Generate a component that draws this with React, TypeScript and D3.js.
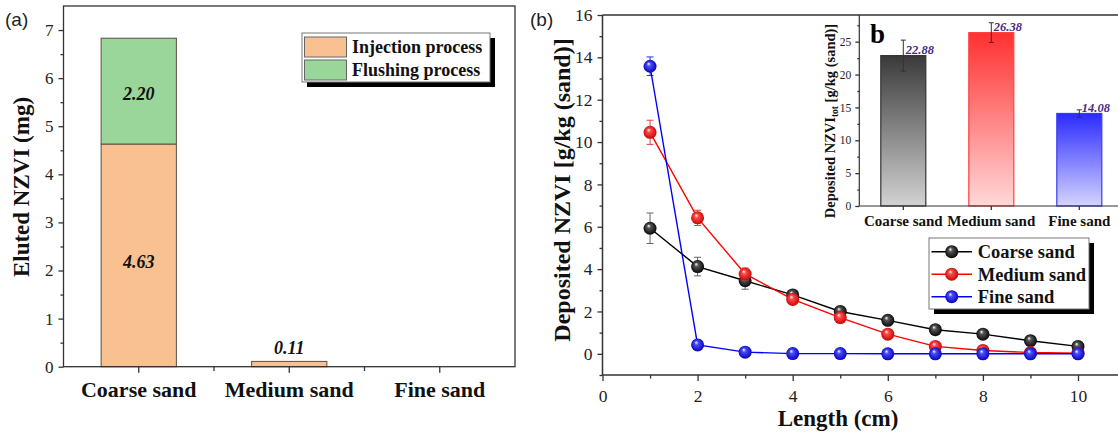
import React, { useRef, useEffect } from 'react';
import * as d3 from 'd3';

// panel (a): eluted NZVI per sand type
const categories = ["Coarse sand", "Medium sand", "Fine sand"];
const injection = [4.63, 0.11, 0];
const flushing = [2.2, 0, 0];
const stackNames = ["Injection process", "Flushing process"];

// panel (b): deposited NZVI along the column
const lengths = [1, 2, 3, 4, 5, 6, 7, 8, 9, 10];
const coarseDep = [5.93, 4.12, 3.45, 2.78, 2.0, 1.58, 1.14, 0.93, 0.62, 0.35];
const coarseErr = [0.72, 0.44, 0.4, 0.1, 0.08, 0.08, 0.06, 0.05, 0.05, 0.04];
const mediumDep = [10.46, 6.42, 3.77, 2.57, 1.71, 0.93, 0.35, 0.16, 0.06, 0.03];
const mediumErr = [0.57, 0.36, 0.28, 0.1, 0.08, 0.05, 0.04, 0.03, 0.02, 0.02];
const fineDep = [13.58, 0.42, 0.08, 0.01, 0.01, 0.0, 0.0, 0.0, 0.0, 0.0];
const fineErr = [0.44, 0.05, 0.03, 0.02, 0.02, 0.02, 0.02, 0.02, 0.02, 0.02];

// inset: total deposited
const totals = [22.88, 26.38, 14.08];
const totalErr = [2.36, 1.5, 0.55];

const serif = "Liberation Serif, Times New Roman, serif";
const sans = "Liberation Sans, Arial, sans-serif";

const App = () => {
  const ref = useRef<SVGSVGElement>(null);

  useEffect(() => {
    const svg = d3.select(ref.current);
    svg.selectAll("*").remove();
    const defs = svg.append("defs");

    const styleAxis = (g: any, size: number) => {
      g.attr("font-family", serif).attr("font-size", size);
      g.select(".domain").remove();
      g.selectAll(".tick line").attr("stroke", "#333").attr("stroke-width", 1.3);
      g.selectAll(".tick text").attr("font-family", serif).attr("font-size", size).attr("fill", "#222");
    };

    // ---------- panel (a) ----------
    const aX = d3.scaleBand().domain(categories).range([63.5, 515]).padding(0);
    const aY = d3.scaleLinear().domain([0, 7.5]).range([366.7, 6]);
    const bw = aX.bandwidth() * 0.5;
    const pa = svg.append("g");

    categories.forEach((c, i) => {
      const x0 = aX(c)! + (aX.bandwidth() - bw) / 2;
      const segs = [
        { y0: 0, y1: injection[i], fill: "#F9C192" },
        { y0: injection[i], y1: injection[i] + flushing[i], fill: "#9AD59A" },
      ];
      segs.forEach(s => {
        if (s.y1 - s.y0 <= 0) return;
        const top = aY(s.y1), bot = aY(s.y0);
        pa.append("rect")
          .attr("x", x0).attr("y", top).attr("width", bw).attr("height", bot - top)
          .attr("fill", s.fill).attr("stroke", "#5a4f45").attr("stroke-width", 1);
        const inside = bot - top > 25;
        pa.append("text")
          .attr("x", x0 + bw / 2)
          .attr("y", inside ? aY(s.y0 + (s.y1 - s.y0) * 0.47) + 6 : top - 7)
          .attr("text-anchor", "middle")
          .attr("font-family", serif).attr("font-size", 18)
          .attr("font-weight", "bold").attr("font-style", "italic").attr("fill", "#111")
          .text(d3.format(".2f")(s.y1 - s.y0));
      });
    });

    pa.append("rect").attr("x", 63.5).attr("y", 6).attr("width", 515 - 63.5).attr("height", 366.7 - 6)
      .attr("fill", "none").attr("stroke", "#333").attr("stroke-width", 1.3);

    pa.append("g").attr("transform", "translate(63.5,0)")
      .call(d3.axisLeft(aY).tickValues(d3.range(0, 8)).tickSize(5).tickPadding(5).tickFormat(d3.format("d")))
      .call((g: any) => styleAxis(g, 17));
    pa.append("g").attr("transform", "translate(63.5,0)")
      .call(d3.axisLeft(aY).tickValues(d3.range(0.5, 7, 1)).tickSize(3).tickFormat(() => ""))
      .call((g: any) => styleAxis(g, 17));
    pa.append("g").attr("transform", "translate(0,366.7)")
      .call(d3.axisBottom(aX).tickSize(6).tickFormat(() => ""))
      .call((g: any) => styleAxis(g, 17));
    pa.selectAll(".minorA").data(categories.slice(1)).join("line")
      .attr("x1", d => aX(d)!).attr("x2", d => aX(d)!)
      .attr("y1", 366.7).attr("y2", 371).attr("stroke", "#333").attr("stroke-width", 1.3);

    pa.selectAll(".catA").data(categories).join("text")
      .attr("x", d => aX(d)! + aX.bandwidth() / 2).attr("y", 397)
      .attr("text-anchor", "middle").attr("font-family", serif).attr("font-size", 22)
      .attr("font-weight", "bold").attr("fill", "#111").text(d => d);

    pa.append("text").attr("transform", "translate(29,187) rotate(-90)")
      .attr("text-anchor", "middle").attr("font-family", serif).attr("font-size", 23)
      .attr("font-weight", "bold").attr("fill", "#111").text("Eluted NZVI (mg)");

    pa.append("text").attr("x", 5).attr("y", 26).attr("font-family", sans).attr("font-size", 19)
      .attr("fill", "#222").text("(a)");

    // legend (a)
    const la = pa.append("g").attr("transform", "translate(302,33)");
    la.append("rect").attr("x", 5).attr("y", 5).attr("width", 188).attr("height", 49).attr("fill", "#000");
    la.append("rect").attr("width", 188).attr("height", 49).attr("fill", "#fff").attr("stroke", "#777");
    stackNames.forEach((n, i) => {
      la.append("rect").attr("x", 2.5).attr("y", 4 + i * 23).attr("width", 42).attr("height", 20)
        .attr("fill", i === 0 ? "#F9C192" : "#9AD59A").attr("stroke", "#666");
      la.append("text").attr("x", 50).attr("y", 20 + i * 23).attr("font-family", serif)
        .attr("font-size", 18).attr("font-weight", "bold").attr("fill", "#111").text(n);
    });

    // ---------- panel (b) ----------
    const bX = d3.scaleLinear().domain([0, 10]).range([602.5, 1078]);
    const bY = d3.scaleLinear().domain([-1, 16]).range([375, 15]);
    const pb = svg.append("g");

    pb.append("line").attr("x1", 602.5).attr("x2", 1118).attr("y1", 15).attr("y2", 15)
      .attr("stroke", "#333").attr("stroke-width", 1.3);
    pb.append("line").attr("x1", 602.5).attr("x2", 1118).attr("y1", 375).attr("y2", 375)
      .attr("stroke", "#333").attr("stroke-width", 1.5);
    pb.append("line").attr("x1", 602.5).attr("x2", 602.5).attr("y1", 15).attr("y2", 375)
      .attr("stroke", "#333").attr("stroke-width", 1.5);

    pb.append("g").attr("transform", "translate(602.5,0)")
      .call(d3.axisLeft(bY).tickValues(d3.range(0, 17, 2)).tickSize(5).tickPadding(5))
      .call((g: any) => styleAxis(g, 17.5));
    pb.append("g").attr("transform", "translate(602.5,0)")
      .call(d3.axisLeft(bY).tickValues(d3.range(-1, 16, 2)).tickSize(3).tickFormat(() => ""))
      .call((g: any) => styleAxis(g, 17.5));
    pb.append("g").attr("transform", "translate(0,375)")
      .call(d3.axisBottom(bX).tickValues(d3.range(0, 11, 2)).tickSize(6).tickPadding(9))
      .call((g: any) => styleAxis(g, 17.5));
    pb.append("g").attr("transform", "translate(0,375)")
      .call(d3.axisBottom(bX).tickValues(d3.range(1, 10, 2)).tickSize(3.5).tickFormat(() => ""))
      .call((g: any) => styleAxis(g, 17.5));

    pb.append("text").attr("transform", "translate(570,190) rotate(-90)")
      .attr("text-anchor", "middle").attr("font-family", serif).attr("font-size", 24)
      .attr("font-weight", "bold").attr("fill", "#111").text("Deposited NZVI [g/kg (sand)]");
    pb.append("text").attr("x", 838).attr("y", 426).attr("text-anchor", "middle")
      .attr("font-family", serif).attr("font-size", 23).attr("font-weight", "bold")
      .attr("fill", "#111").text("Length (cm)");
    pb.append("text").attr("x", 530).attr("y", 26).attr("font-family", sans).attr("font-size", 19)
      .attr("fill", "#222").text("(b)");

    const series = [
      { name: "Coarse sand", values: coarseDep, errors: coarseErr, color: "#000000", hi: "#555", dark: "#000", err: "#666" },
      { name: "Medium sand", values: mediumDep, errors: mediumErr, color: "#ff0000", hi: "#ff4a4a", dark: "#c00000", err: "#e04040" },
      { name: "Fine sand", values: fineDep, errors: fineErr, color: "#0000ff", hi: "#4a4aff", dark: "#0000b0", err: "#3030d0" },
    ];

    series.forEach((s, k) => {
      const gr = defs.append("radialGradient").attr("id", "ball" + k)
        .attr("cx", "0.5").attr("cy", "0.5").attr("r", "0.55").attr("fx", "0.38").attr("fy", "0.3");
      gr.append("stop").attr("offset", "0").attr("stop-color", "#ffffff");
      gr.append("stop").attr("offset", "0.28").attr("stop-color", s.hi);
      gr.append("stop").attr("offset", "1").attr("stop-color", s.dark);
    });

    const line = d3.line<number>().x((_, i) => bX(lengths[i])).y(d => bY(d));
    series.forEach((s, k) => {
      const g = pb.append("g");
      s.values.forEach((v, i) => {
        const e = s.errors[i];
        if (e < 0.15) return;
        const cx = bX(lengths[i]);
        g.append("line").attr("x1", cx).attr("x2", cx).attr("y1", bY(v + e)).attr("y2", bY(v - e))
          .attr("stroke", s.err).attr("stroke-width", 1);
        [v + e, v - e].forEach(y => g.append("line").attr("x1", cx - 3.5).attr("x2", cx + 3.5)
          .attr("y1", bY(y)).attr("y2", bY(y)).attr("stroke", s.err).attr("stroke-width", 1));
      });
      g.append("path").attr("d", line(s.values)!).attr("fill", "none")
        .attr("stroke", s.color).attr("stroke-width", 1.4);
      g.selectAll("circle").data(s.values).join("circle")
        .attr("cx", (_, i) => bX(lengths[i])).attr("cy", d => bY(d)).attr("r", 6.5)
        .attr("fill", `url(#ball${k})`);
    });

    // legend (b)
    const lb = pb.append("g").attr("transform", "translate(929,238)");
    lb.append("rect").attr("x", 5).attr("y", 5).attr("width", 160).attr("height", 71).attr("fill", "#000");
    lb.append("rect").attr("width", 160).attr("height", 71).attr("fill", "#fff").attr("stroke", "#777");
    series.forEach((s, k) => {
      const cy = 13.7 + k * 22.5;
      lb.append("line").attr("x1", 2.5).attr("x2", 43).attr("y1", cy).attr("y2", cy)
        .attr("stroke", s.color).attr("stroke-width", 1.4);
      lb.append("circle").attr("cx", 22.7).attr("cy", cy).attr("r", 6.5).attr("fill", `url(#ball${k})`);
      lb.append("text").attr("x", 48.7).attr("y", cy + 6.5).attr("font-family", serif)
        .attr("font-size", 18.5).attr("font-weight", "bold").attr("fill", "#111").text(s.name);
    });

    // ---------- inset ----------
    const iX = d3.scaleBand().domain(categories).range([859.3, 859.3 + 264]).padding(0);
    const iY = d3.scaleLinear().domain([0, 29]).range([206, 15.4]);
    const ibw = 45;
    const pi = svg.append("g");
    const insetColors = [
      { top: "#3a3a3a", bottom: "#d2d2d2", stroke: "#333" },
      { top: "#ff3030", bottom: "#ffd8d8", stroke: "#ff4040" },
      { top: "#2a2aff", bottom: "#d4d4ff", stroke: "#3c3cee" },
    ];
    insetColors.forEach((c, i) => {
      const gr = defs.append("linearGradient").attr("id", "ibar" + i)
        .attr("x1", 0).attr("y1", 0).attr("x2", 0).attr("y2", 1);
      gr.append("stop").attr("offset", "0").attr("stop-color", c.top);
      gr.append("stop").attr("offset", "1").attr("stop-color", c.bottom);
    });

    categories.forEach((c, i) => {
      const cx = iX(c)! + iX.bandwidth() / 2;
      pi.append("rect").attr("x", cx - ibw / 2).attr("y", iY(totals[i]))
        .attr("width", ibw).attr("height", iY(0) - iY(totals[i]))
        .attr("fill", `url(#ibar${i})`).attr("stroke", insetColors[i].stroke).attr("stroke-width", 1.2);
      const e = totalErr[i];
      pi.append("line").attr("x1", cx).attr("x2", cx).attr("y1", iY(totals[i] + e)).attr("y2", iY(totals[i] - e))
        .attr("stroke", "#333").attr("stroke-width", 1);
      [totals[i] + e, totals[i] - e].forEach(y => pi.append("line").attr("x1", cx - 2.5).attr("x2", cx + 2.5)
        .attr("y1", iY(y)).attr("y2", iY(y)).attr("stroke", "#333").attr("stroke-width", 1));
      pi.append("text").attr("x", cx + 2.5).attr("y", iY(totals[i]) - 1.5)
        .attr("font-family", serif).attr("font-size", 12.5).attr("font-weight", "bold")
        .attr("font-style", "italic").attr("fill", "#4b2a7e").text(d3.format(".2f")(totals[i]));
    });

    pi.append("line").attr("x1", 859.3).attr("x2", 1118).attr("y1", 206).attr("y2", 206)
      .attr("stroke", "#333").attr("stroke-width", 1.2);
    pi.append("line").attr("x1", 859.3).attr("x2", 859.3).attr("y1", 15).attr("y2", 206)
      .attr("stroke", "#333").attr("stroke-width", 1.2);
    pi.append("g").attr("transform", "translate(859.3,0)")
      .call(d3.axisLeft(iY).tickValues(d3.range(0, 26, 5)).tickSize(4).tickPadding(4))
      .call((g: any) => styleAxis(g, 11.5));
    pi.append("g").attr("transform", "translate(859.3,0)")
      .call(d3.axisLeft(iY).tickValues(d3.range(2.5, 29, 5)).tickSize(2).tickFormat(() => ""))
      .call((g: any) => styleAxis(g, 11.5));
    pi.append("g").attr("transform", "translate(0,206)")
      .call(d3.axisBottom(iX).tickSize(4).tickFormat(() => ""))
      .call((g: any) => styleAxis(g, 11.5));
    pi.selectAll(".catI").data(categories).join("text")
      .attr("x", d => iX(d)! + iX.bandwidth() / 2).attr("y", 226)
      .attr("text-anchor", "middle").attr("font-family", serif).attr("font-size", 15)
      .attr("font-weight", "bold").attr("fill", "#111").text(d => d);

    const yt = pi.append("text").attr("transform", "translate(835,121) rotate(-90)")
      .attr("text-anchor", "middle").attr("font-family", serif).attr("font-size", 14.5)
      .attr("font-weight", "bold").attr("fill", "#111");
    yt.append("tspan").text("Deposited NZVI");
    yt.append("tspan").attr("font-size", 9.5).attr("dy", 3).text("tot");
    yt.append("tspan").attr("dy", -3).text(" [g/kg (sand)]");

    pi.append("text").attr("x", 870).attr("y", 43).attr("font-family", serif).attr("font-size", 27)
      .attr("font-weight", "bold").attr("fill", "#000").text("b");
  }, []);

  return (
    <div style={{ position: "absolute", left: 0, top: 0, width: 1118, height: 434, background: "#fff" }}>
      <svg ref={ref} width={1118} height={434}></svg>
    </div>
  );
};

export default App;
